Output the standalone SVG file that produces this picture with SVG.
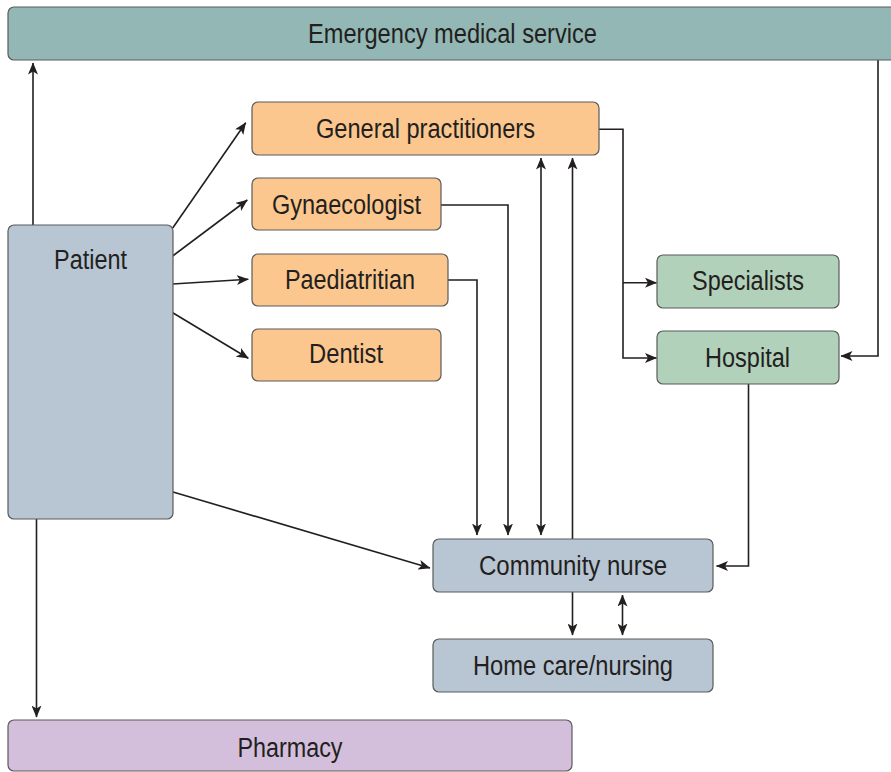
<svg xmlns="http://www.w3.org/2000/svg" width="891" height="772" viewBox="0 0 891 772">
<defs>
<style>
.box{stroke:#5a5a5a;stroke-width:1.2}
.ems{fill:#93b7b4}
.org{fill:#fbc78e}
.grn{fill:#b2d1bb}
.blu{fill:#b8c5d3}
.pha{fill:#d3bedb}
text{font-family:"Liberation Sans Narrow","Liberation Sans",Arial,sans-serif;font-size:27px;fill:#231f20;text-anchor:middle}
.c{fill:none;stroke:#231f20;stroke-width:1.6}
</style>
<marker id="ah" viewBox="0 0 12 10" refX="11.5" refY="5" markerWidth="12" markerHeight="10" markerUnits="userSpaceOnUse" orient="auto-start-reverse">
<path d="M0,0 L12,5 L0,10 L3,5 Z" fill="#231f20"/>
</marker>
</defs>
<rect width="891" height="772" fill="#ffffff"/>
<g id="connectors">
<path class="c" d="M33,225 V63" marker-end="url(#ah)"/>
<path class="c" d="M36.5,519 V717" marker-end="url(#ah)"/>
<path class="c" d="M172.7,228 L245.7,122.7" marker-end="url(#ah)"/>
<path class="c" d="M172.7,256 L247.3,200" marker-end="url(#ah)"/>
<path class="c" d="M172.7,284 L248.3,279.3" marker-end="url(#ah)"/>
<path class="c" d="M172.7,312.7 L248.3,358.3" marker-end="url(#ah)"/>
<path class="c" d="M173,492 L430,568" marker-end="url(#ah)"/>
<path class="c" d="M441,205 H508 V535" marker-end="url(#ah)"/>
<path class="c" d="M448,280 H477 V535" marker-end="url(#ah)"/>
<path class="c" d="M541,158 V535" marker-start="url(#ah)" marker-end="url(#ah)"/>
<path class="c" d="M572.5,539 V158" marker-end="url(#ah)"/>
<path class="c" d="M599,129.3 H623 V358 H656.5" marker-end="url(#ah)"/>
<path class="c" d="M623,282.7 H656.5" marker-end="url(#ah)"/>
<path class="c" d="M878,60 V356 H841" marker-end="url(#ah)"/>
<path class="c" d="M748.5,384 V566 H716.5" marker-end="url(#ah)"/>
<path class="c" d="M572.5,592 V635" marker-end="url(#ah)"/>
<path class="c" d="M622.5,595 V635" marker-start="url(#ah)" marker-end="url(#ah)"/>
</g>
<g id="ems">
<rect class="box ems" x="8" y="7" width="895" height="53" rx="6"/>
<text x="452.5" y="43" textLength="289" lengthAdjust="spacingAndGlyphs">Emergency medical service</text>
</g>
<g id="patient">
<rect class="box blu" x="8" y="225" width="165" height="294" rx="6"/>
<text x="90.5" y="269" textLength="73" lengthAdjust="spacingAndGlyphs">Patient</text>
</g>
<g id="gp">
<rect class="box org" x="252" y="102" width="347" height="53" rx="6"/>
<text x="425.5" y="138" textLength="219" lengthAdjust="spacingAndGlyphs">General practitioners</text>
</g>
<g id="gynaecologist">
<rect class="box org" x="252" y="178" width="189" height="52" rx="6"/>
<text x="346.5" y="214" textLength="149" lengthAdjust="spacingAndGlyphs">Gynaecologist</text>
</g>
<g id="paediatritian">
<rect class="box org" x="252" y="254" width="196" height="52" rx="6"/>
<text x="350" y="289" textLength="130" lengthAdjust="spacingAndGlyphs">Paediatritian</text>
</g>
<g id="dentist">
<rect class="box org" x="252" y="329" width="189" height="52" rx="6"/>
<text x="346" y="363" textLength="74" lengthAdjust="spacingAndGlyphs">Dentist</text>
</g>
<g id="specialists">
<rect class="box grn" x="657" y="255" width="182" height="53" rx="6"/>
<text x="748" y="290" textLength="112" lengthAdjust="spacingAndGlyphs">Specialists</text>
</g>
<g id="hospital">
<rect class="box grn" x="657" y="331" width="182" height="53" rx="6"/>
<text x="747.5" y="367" textLength="85" lengthAdjust="spacingAndGlyphs">Hospital</text>
</g>
<g id="community-nurse">
<rect class="box blu" x="433" y="539" width="280" height="53" rx="6"/>
<text x="573" y="575" textLength="188" lengthAdjust="spacingAndGlyphs">Community nurse</text>
</g>
<g id="home-care">
<rect class="box blu" x="433" y="639" width="280" height="53" rx="6"/>
<text x="573" y="675" textLength="200" lengthAdjust="spacingAndGlyphs">Home care/nursing</text>
</g>
<g id="pharmacy">
<rect class="box pha" x="8" y="720" width="564" height="51" rx="6"/>
<text x="290" y="757" textLength="105" lengthAdjust="spacingAndGlyphs">Pharmacy</text>
</g>
</svg>
